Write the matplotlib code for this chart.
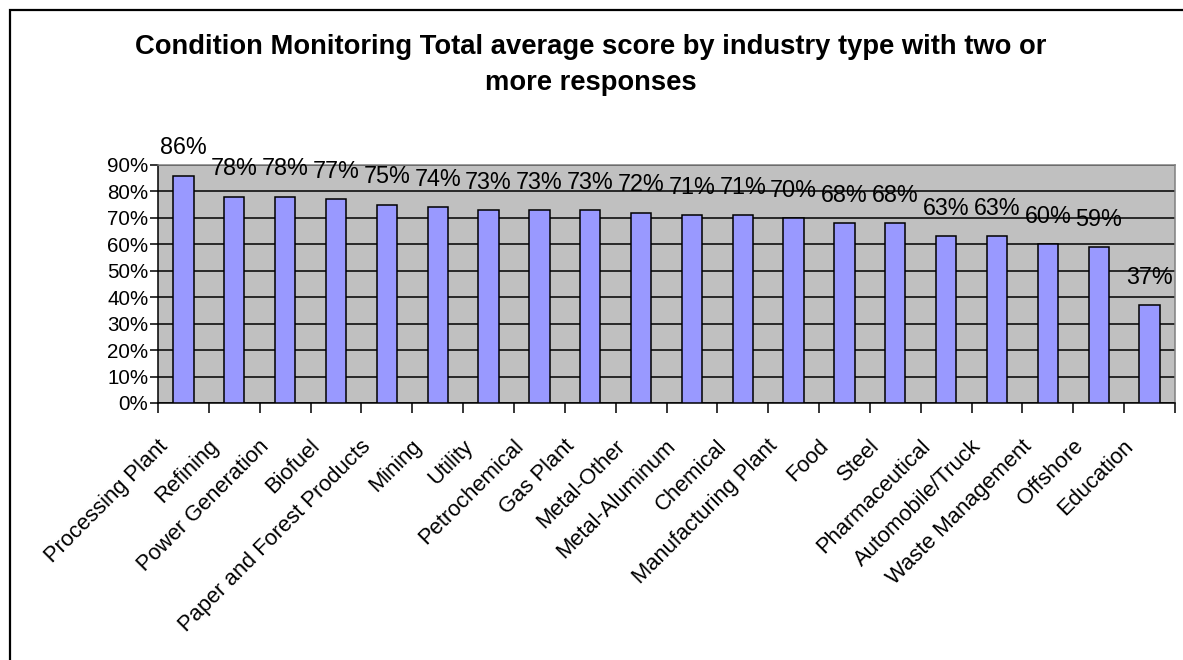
import numpy as np
import matplotlib.pyplot as plt
from matplotlib.patches import Rectangle
from matplotlib.transforms import ScaledTranslation

plt.rcParams['font.family'] = ['Liberation Sans', 'DejaVu Sans']

industries = ['Processing Plant', 'Refining', 'Power Generation', 'Biofuel',
              'Paper and Forest Products', 'Mining', 'Utility', 'Petrochemical',
              'Gas Plant', 'Metal-Other', 'Metal-Aluminum', 'Chemical',
              'Manufacturing Plant', 'Food', 'Steel', 'Pharmaceutical',
              'Automobile/Truck', 'Waste Management', 'Offshore', 'Education']
scores = [86, 78, 78, 77, 75, 74, 73, 73, 73, 72, 71, 71, 70, 68, 68, 63, 63, 60, 59, 37]
yticks = [0, 10, 20, 30, 40, 50, 60, 70, 80, 90]

W, H = 1183, 660
fig = plt.figure(figsize=(W / 100, H / 100), dpi=100)
ax = fig.add_axes([158 / W, 1 - 403 / H, (1175 - 158) / W, (403 - 165) / H])

x = np.arange(len(industries))
ax.set_facecolor('#C0C0C0')
ax.set_axisbelow(True)
ax.yaxis.grid(True, color='black', lw=1.1)
ax.bar(x, scores, width=0.4, color='#9999FF', edgecolor='black', lw=1.1, zorder=3)

# value labels sit well above each bar, like the original
for xi, v in zip(x, scores):
    ax.annotate(f'{v}%', (xi, v), xytext=(0, 20), textcoords='offset points',
                ha='center', va='center', fontsize=16.8, zorder=4)

ax.set_xlim(-0.5, len(industries) - 0.5)
ax.set_ylim(0, 90)
ax.set_yticks(yticks)
ax.set_yticklabels([f'{t}%' for t in yticks], fontsize=14.8)
ax.tick_params(axis='y', direction='out', length=6, width=1.1, pad=1)

# labels at bar centres, tick marks at category boundaries
ax.set_xticks(x)
ax.set_xticklabels(industries, fontsize=15.8, rotation=45, ha='right',
                   va='center', rotation_mode='anchor')
ax.tick_params(axis='x', which='major', length=0, pad=0)
ax.set_xticks(np.arange(len(industries) + 1) - 0.5, minor=True)
ax.tick_params(axis='x', which='minor', direction='out', length=7, width=1.1)
shift = ScaledTranslation(-19 / 100, -40 / 100, fig.dpi_scale_trans)
for lab in ax.get_xticklabels():
    lab.set_transform(lab.get_transform() + shift)

for side in ['top', 'right']:
    ax.spines[side].set_color('#808080')
    ax.spines[side].set_linewidth(1.1)
for side in ['left', 'bottom']:
    ax.spines[side].set_color('black')
    ax.spines[side].set_linewidth(1.1)

fig.text(0.499, 1 - 65 / H,
         'Condition Monitoring Total average score by industry type with two or\nmore responses',
         ha='center', va='center', fontsize=19.7, fontweight='bold', linespacing=1.45)

# chart frame (only left and top edges fall inside the picture)
fig.patches.append(Rectangle((10 / W, -0.1), 1.2, 1 - 10 / H + 0.1,
                             transform=fig.transFigure, fill=False,
                             edgecolor='black', lw=1.6))

fig.savefig('out.png', dpi=100)
